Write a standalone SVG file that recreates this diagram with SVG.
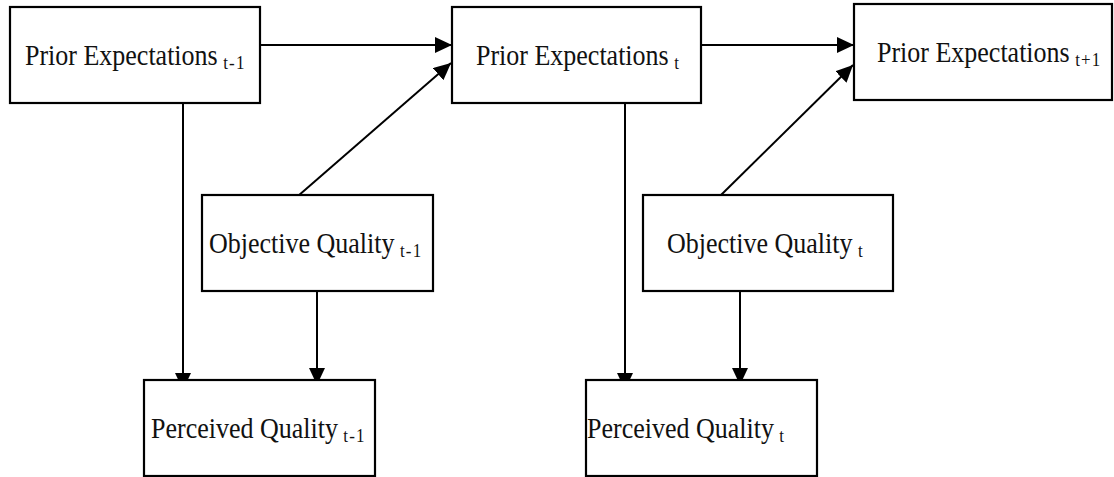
<svg xmlns="http://www.w3.org/2000/svg" width="1114" height="477" viewBox="0 0 1114 477">
<style>
.box{fill:#fff;stroke:#000;stroke-width:2.2}
.lbl{font-family:"Liberation Serif","Times New Roman",serif;font-size:26px;fill:#111}
.sub{font-size:17px;letter-spacing:1.2px}
.edge{stroke:#000;stroke-width:2;fill:none;marker-end:url(#ah)}
</style>
<defs>
<marker id="ah" markerUnits="userSpaceOnUse" markerWidth="18" markerHeight="17" refX="17" refY="8" orient="auto">
<path d="M0,0 L17,8 L0,16 z" fill="#000"/>
</marker>
</defs>
<rect width="1114" height="477" fill="#fff"/>
<g id="connectors">
<line class="edge" x1="261" y1="45" x2="452" y2="45"/>
<line class="edge" x1="702" y1="45" x2="854" y2="45"/>
<line class="edge" x1="298" y1="196" x2="451" y2="63"/>
<line class="edge" x1="720" y1="196" x2="853" y2="65"/>
<line class="edge" x1="183" y1="103" x2="183" y2="390"/>
<line class="edge" x1="317" y1="288" x2="317" y2="385"/>
<line class="edge" x1="625" y1="103" x2="625" y2="390"/>
<line class="edge" x1="740" y1="288" x2="740" y2="385"/>
</g>
<g id="prior_t-1">
<rect class="box" x="10" y="7" width="250" height="96"/>
<text class="lbl" transform="translate(25,65) scale(1,1.16)">Prior Expectations<tspan class="sub" dy="3.5"> t-1</tspan></text>
</g>
<g id="prior_t">
<rect class="box" x="452" y="7" width="249" height="96"/>
<text class="lbl" transform="translate(476,65) scale(1,1.16)">Prior Expectations<tspan class="sub" dy="3.5"> t</tspan></text>
</g>
<g id="prior_t1">
<rect class="box" x="854" y="4" width="258" height="96"/>
<text class="lbl" transform="translate(877,62) scale(1,1.16)">Prior Expectations<tspan class="sub" dy="3.5"> t+1</tspan></text>
</g>
<g id="objective_t-1">
<rect class="box" x="202" y="195" width="231" height="96"/>
<text class="lbl" transform="translate(209,253) scale(1,1.16)">Objective Quality<tspan class="sub" dy="3.5"> t-1</tspan></text>
</g>
<g id="objective_t">
<rect class="box" x="643" y="195" width="250" height="96"/>
<text class="lbl" transform="translate(667,253) scale(1,1.16)">Objective Quality<tspan class="sub" dy="3.5"> t</tspan></text>
</g>
<g id="perceived_t-1">
<rect class="box" x="144" y="380" width="231" height="96"/>
<text class="lbl" transform="translate(151,438) scale(1,1.16)">Perceived Quality<tspan class="sub" dy="3.5"> t-1</tspan></text>
</g>
<g id="perceived_t">
<rect class="box" x="586" y="380" width="231" height="96"/>
<text class="lbl" transform="translate(587,438) scale(1,1.16)">Perceived Quality<tspan class="sub" dy="3.5"> t</tspan></text>
</g>
</svg>
